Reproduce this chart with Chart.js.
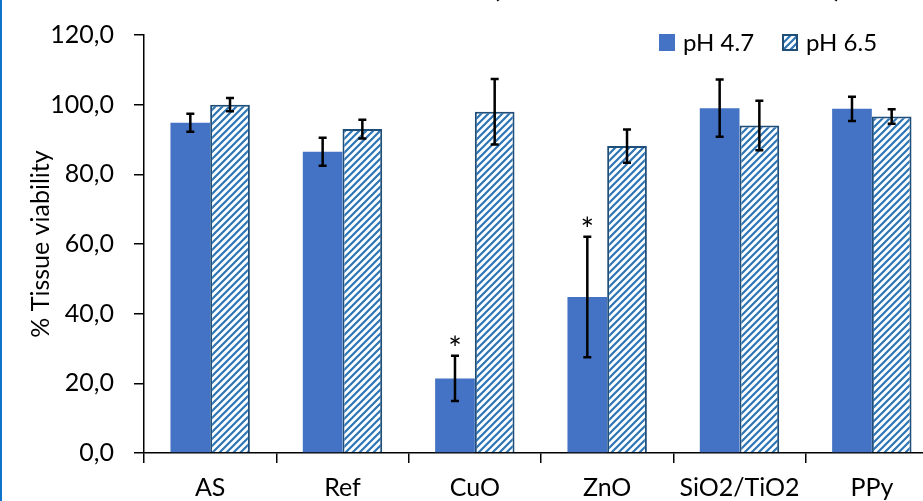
<!DOCTYPE html>
<html>
<head>
<meta charset="utf-8">
<script src="https://cdn.jsdelivr.net/npm/chart.js@4.4.1/dist/chart.umd.min.js"></script>
<style>
    html, body { margin: 0; padding: 0; background: #fff; overflow: hidden; width: 923px; height: 501px; }
    #wrap { position: relative; width: 923px; height: 501px; overflow: hidden; }
    #edge { position: absolute; left: 0; top: 0; width: 2px; height: 501px; background: #0E74C9; z-index: 2; }
    #viability-chart { position: absolute; left: 0; top: 0; }
</style>
</head>
<body>
<div id="wrap">
    <div id="edge"></div>
    <canvas id="viability-chart" width="941" height="501"></canvas>
</div>
<script>
const categories = ["AS", "Ref", "CuO", "ZnO", "SiO2/TiO2", "PPy"];

const ph47 = [94.8, 86.5, 21.4, 44.8, 99.0, 98.8];
const ph47Err = [2.6, 4.0, 6.5, 17.3, 8.2, 3.5];
const ph47Marks = ["", "", "*", "*", "", ""];

const ph65 = [100.0, 93.0, 98.0, 88.1, 94.0, 96.6];
const ph65Err = [1.9, 2.7, 9.4, 4.8, 7.1, 2.1];
const ph65Marks = ["", "", "", "", "", ""];

const yMin = 0;
const yMax = 120;
const yStep = 20;

const FONT = "Lato";
const solidBlue = "#4472C4";
const stripeBlue = "#2E75B6";
const hatchEdge = "#1F4E79";

const canvas = document.getElementById("viability-chart");
const ctx = canvas.getContext("2d");

function makeHatch() {
    const c = document.createElement("canvas");
    c.width = 7;
    c.height = 7;
    const g = c.getContext("2d");
    g.fillStyle = "#fff";
    g.fillRect(0, 0, 7, 7);
    g.strokeStyle = stripeBlue;
    g.lineWidth = 2.2;
    g.beginPath();
    g.moveTo(-1, 8); g.lineTo(8, -1);
    g.moveTo(-1, 1); g.lineTo(1, -1);
    g.moveTo(6, 8); g.lineTo(8, 6);
    g.stroke();
    return ctx.createPattern(c, "repeat");
}

const hatch = makeHatch();

// error bars + asterisks, positioned through the scales
const errorBars = {
    id: "errorBars",
    afterDatasetsDraw(chart) {
        const y = chart.scales.y;
        const c = chart.ctx;
        c.save();
        c.strokeStyle = "#000";
        c.fillStyle = "#000";
        c.lineWidth = 2.5;
        chart.data.datasets.forEach((ds, i) => {
            const meta = chart.getDatasetMeta(i);
            meta.data.forEach((bar, j) => {
                const v = ds.data[j];
                const e = ds.errors[j];
                const top = y.getPixelForValue(v + e);
                const bot = y.getPixelForValue(v - e);
                c.beginPath();
                c.moveTo(bar.x, top); c.lineTo(bar.x, bot);
                c.moveTo(bar.x - 4, top); c.lineTo(bar.x + 4, top);
                c.moveTo(bar.x - 4, bot); c.lineTo(bar.x + 4, bot);
                c.stroke();
                if (ds.marks[j]) {
                    c.font = "32px " + FONT;
                    c.textAlign = "center";
                    c.textBaseline = "alphabetic";
                    c.fillText(ds.marks[j], bar.x, top + 4);
                }
            });
        });
        c.restore();
    }
};

// legend drawn at the top right, plus the clipped title brackets
const topDecor = {
    id: "topDecor",
    afterDraw(chart) {
        const c = chart.ctx;
        const sets = chart.data.datasets;
        c.save();
        c.font = "24px " + FONT;
        c.textBaseline = "middle";
        c.textAlign = "left";

        c.fillStyle = sets[0].backgroundColor;
        c.fillRect(659, 34, 16, 17);
        c.fillStyle = "#000";
        c.fillText(sets[0].label, 683, 43);

        c.fillStyle = sets[1].backgroundColor;
        c.fillRect(782, 34, 16, 17);
        c.strokeStyle = hatchEdge;
        c.lineWidth = 2;
        c.strokeRect(783, 35, 14, 15);
        c.fillStyle = "#000";
        c.fillText(sets[1].label, 806, 43);

        c.font = "bold 40px " + FONT;
        c.textBaseline = "alphabetic";
        c.textAlign = "center";
        c.fillText("(", 496, -5);
        c.fillText(")", 838, -5);
        c.restore();
    }
};

new Chart(ctx, {
    type: "bar",
    data: {
        labels: categories,
        datasets: [
            {
                label: "pH 4.7",
                data: ph47,
                errors: ph47Err,
                marks: ph47Marks,
                backgroundColor: solidBlue,
                borderWidth: 0
            },
            {
                label: "pH 6.5",
                data: ph65,
                errors: ph65Err,
                marks: ph65Marks,
                backgroundColor: hatch,
                borderColor: hatchEdge,
                borderWidth: 2
            }
        ]
    },
    options: {
        responsive: false,
        animation: false,
        devicePixelRatio: 1,
        layout: { padding: { left: 26, top: 34, right: 3, bottom: 0 } },
        datasets: { bar: { categoryPercentage: 0.6, barPercentage: 1.0 } },
        plugins: {
            legend: { display: false },
            tooltip: { enabled: false },
            title: { display: false }
        },
        scales: {
            x: {
                grid: { drawOnChartArea: false, drawTicks: true, tickLength: 10, color: "#000", lineWidth: 1.5, offset: true },
                border: { color: "#000", width: 1.5 },
                ticks: { color: "#000", font: { family: FONT, size: 25 }, padding: 10, maxRotation: 0, autoSkip: false },
                afterFit: s => { s.height = 48; }
            },
            y: {
                min: yMin,
                max: yMax,
                grid: { drawOnChartArea: false, drawTicks: true, tickLength: 10, color: "#000", lineWidth: 1.5 },
                border: { color: "#000", width: 1.5 },
                ticks: {
                    stepSize: yStep,
                    color: "#000",
                    font: { family: FONT, size: 25 },
                    padding: 20,
                    callback: v => v.toFixed(1).replace(".", ",")
                },
                title: {
                    display: true,
                    text: "% Tissue viability",
                    color: "#000",
                    font: { family: FONT, size: 25 },
                    padding: 0
                },
                afterFit: s => { s.width = 118; }
            }
        }
    },
    plugins: [errorBars, topDecor]
});
</script>
</body>
</html>
